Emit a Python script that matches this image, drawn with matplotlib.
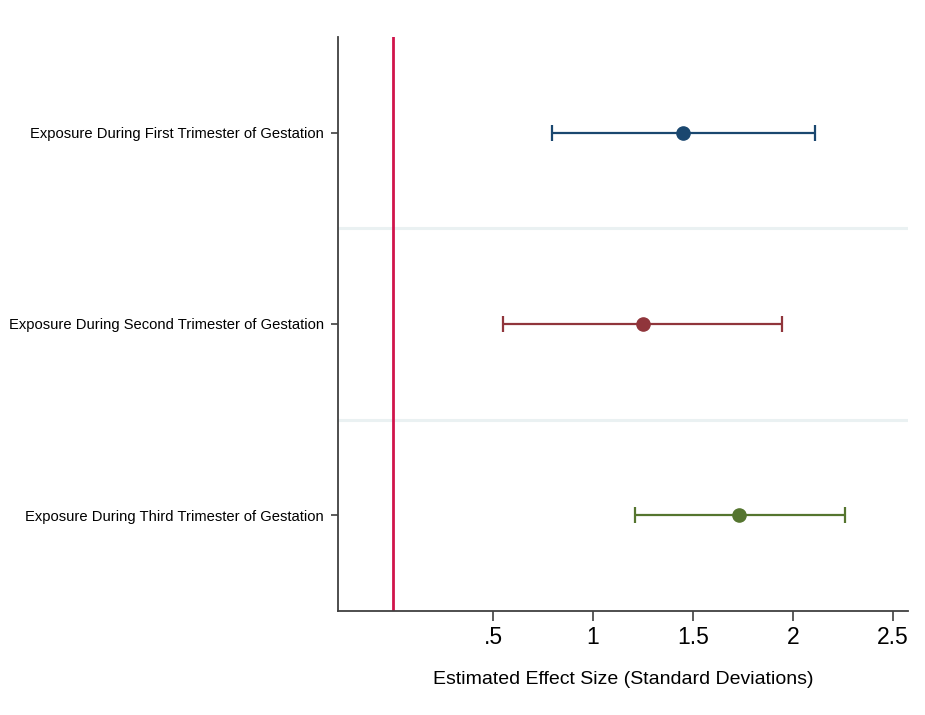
import matplotlib
matplotlib.use('Agg')
from matplotlib import pyplot as plt

plt.rcParams['font.family'] = ['Liberation Sans', 'DejaVu Sans']

labels = ['Exposure During First Trimester of Gestation',
          'Exposure During Second Trimester of Gestation',
          'Exposure During Third Trimester of Gestation']
estimates = [1.45, 1.25, 1.73]
lower = [0.795, 0.55, 1.21]
upper = [2.11, 1.945, 2.26]
colors = ['#1a476f', '#90353b', '#55752f']
xticks = [0.5, 1, 1.5, 2, 2.5]
xticklabels = ['.5', '1', '1.5', '2', '2.5']


def main():
    fig = plt.figure(figsize=(9.25, 7.15), dpi=100)
    ax = fig.add_axes([0.3654, 0.1455, 0.6162, 0.8028])
    ypos = list(range(1, len(labels) + 1))

    # light separators between rows
    for y in ypos[:-1]:
        ax.axhline(y + 0.5, color='#eaf1f2', linewidth=2.2, zorder=0)

    ax.axvline(0, color='#d0144b', linewidth=2.0, zorder=1)

    for y, est, lo, hi, c in zip(ypos, estimates, lower, upper, colors):
        ax.errorbar([est], [y], xerr=[[est - lo], [hi - est]], fmt='o', color=c,
                    markersize=9.5, elinewidth=1.6, capsize=5.5, capthick=1.6, zorder=3)

    ax.set_ylim(3.5, 0.5)
    ax.set_xlim(-0.275, 2.575)
    ax.set_yticks(ypos)
    ax.set_yticklabels(labels, fontsize=10.6)
    ax.set_xticks(xticks)
    ax.set_xticklabels(xticklabels, fontsize=16.5)
    ax.tick_params(axis='x', length=7, width=1.2, color='#404040', pad=4)
    ax.tick_params(axis='y', length=5, width=1.2, color='#404040', pad=5)
    ax.set_xlabel('Estimated Effect Size (Standard Deviations)', fontsize=14, labelpad=16)

    ax.spines['top'].set_visible(False)
    ax.spines['right'].set_visible(False)
    for s in ['left', 'bottom']:
        ax.spines[s].set_color('#404040')
        ax.spines[s].set_linewidth(1.3)

    plt.savefig('out.png', dpi=100)
    plt.close()


if __name__ == '__main__':
    main()
